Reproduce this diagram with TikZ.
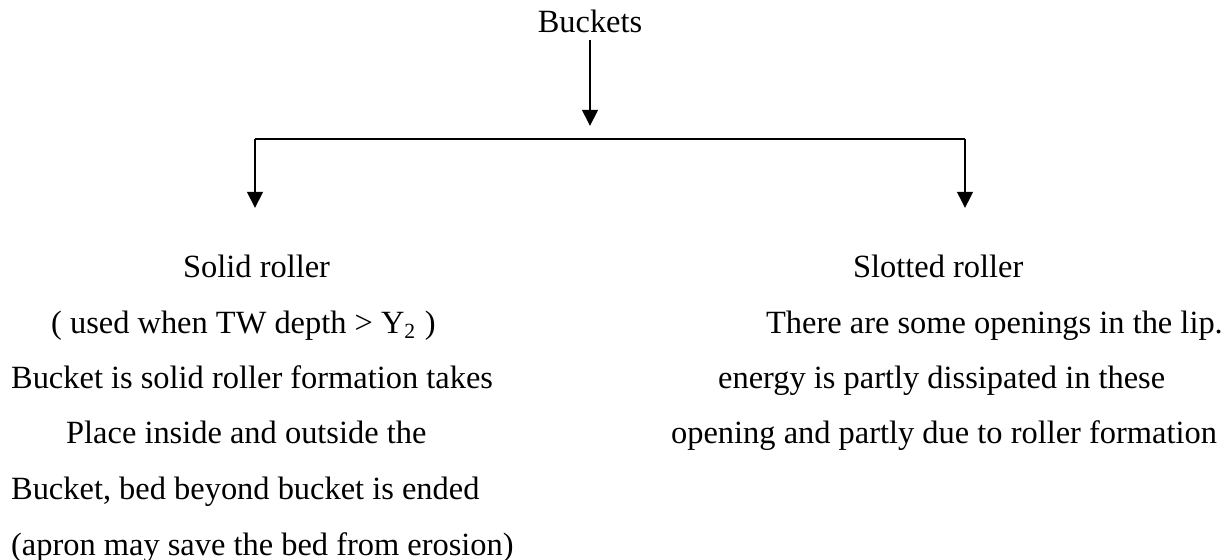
\documentclass[tikz,border=0pt]{standalone}
\usepackage{fontspec}
\setmainfont{Liberation Serif}
\usetikzlibrary{arrows.meta}
\begin{document}
\begin{tikzpicture}[x=0.37pt,y=-0.37pt,inner sep=0pt,line width=0.85pt,
  >={Triangle[width=5.8pt,length=6pt]},
  txt/.style={anchor=base west,font=\fontsize{12}{14}\selectfont}]
\useasboundingbox (0,0) rectangle (1225,560);
\node (buckets) at (590,33) [txt,anchor=base] {Buckets};
\coordinate (mid) at (590,126);
\coordinate (jl) at (255,139);
\coordinate (jr) at (965,139);
\coordinate (ltip) at (255,208);
\coordinate (rtip) at (965,208);
\draw[->,shorten <=2pt] (buckets) -- (mid);
\draw (jl) -- (jr);
\draw[->] (jl) -- (ltip);
\draw[->] (jr) -- (rtip);
% solid roller
\node (solid) at (182,278) [txt] {Solid roller};
\node (s1) at (50,334) [txt] {( used when TW depth > Y\textsubscript{2} )};
\node (s2) at (10,389) [txt] {Bucket is solid roller formation takes};
\node (s3) at (65,444) [txt] {Place inside and outside the};
\node (s4) at (10,500) [txt] {Bucket, bed beyond bucket is ended};
\node (s5) at (10,555) [txt] {(apron may save the bed from erosion)};
% slotted roller
\node (slotted) at (852,278) [txt] {Slotted roller};
\node (t1) at (765,334) [txt] {There are some openings in the lip.};
\node (t2) at (717,389) [txt] {energy is partly dissipated in these};
\node (t3) at (670,444) [txt] {opening and partly due to roller formation};
\end{tikzpicture}
\end{document}
